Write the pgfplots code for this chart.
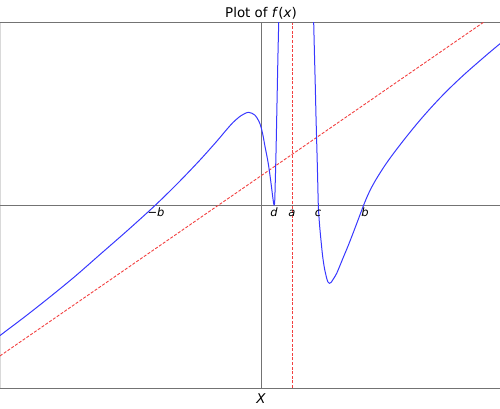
\documentclass[border=0pt]{standalone}
\usepackage{pgfplots}
\pgfplotsset{compat=1.18}
\usepackage{fontspec}
\setmainfont{DejaVu Sans}
\definecolor{cblue}{rgb}{0.22,0.22,1}
\definecolor{cred}{rgb}{0.95,0.25,0.25}
\definecolor{spine}{gray}{0.45}
\begin{document}
\begin{tikzpicture}
\useasboundingbox (0pt,-20pt) rectangle (500pt,388pt);
\begin{axis}[
  at={(0pt,0pt)}, anchor=south west,
  scale only axis, width=500pt, height=365pt,
  xmin=-261, xmax=239, ymin=-182.5, ymax=182.5,
  axis line style={draw=none},
  xtick=\empty, ytick=\empty,
  clip=true,
]
% frame and zero lines
\draw[spine, line width=1pt] (rel axis cs:0,1) -- (rel axis cs:1,1);
\draw[spine, line width=1pt] (rel axis cs:0,0) -- (rel axis cs:1,0);
\draw[gray!30, line width=0.6pt] (rel axis cs:0,0) -- (rel axis cs:0,1);
\draw[spine, line width=0.9pt] (axis cs:-261,0) -- (axis cs:239,0);
\draw[spine, line width=0.9pt] (axis cs:0,-182.5) -- (axis cs:0,182.5);
% asymptotes
\addplot[cred, line width=0.9pt, dash pattern=on 3pt off 1.6pt] coordinates {(-261,-150.4) (239,194.6)};
\addplot[cred, line width=0.9pt, dash pattern=on 3pt off 1.6pt] coordinates {(31.5,-182.5) (31.5,182.5)};
% curve, left of a
\addplot[cblue, line width=1pt, smooth, tension=0.5] coordinates {
(-261,-130) (-236,-111.1) (-211,-91.4) (-186,-70.9) (-161,-49) (-133,-24.5)
(-106,0) (-83,22.5) (-61,45.5) (-44,64.5) (-36,74) (-28,83) (-20,89.8) (-12.5,93.2)
(-6,90.3) (-2,84) (0,78.5) (2,70) (4,59) (6,49) (7.5,40.5) (9,30) (10.5,18.5)
(12,6.5) (13,0.5) (13.7,4) (14.3,25) (15,52.5) (16,102.5) (17,152.5) (17.7,182.5) (18.2,205)
};
% curve, right of a
\addplot[cblue, line width=1pt, smooth, tension=0.5] coordinates {
(52.2,205) (52.7,182.5) (53.5,150) (54.3,118.8) (55.1,85) (56,52.5) (56.7,25)
(57.3,0.5) (58,-12) (59,-24.5) (60.3,-38) (61.7,-51.2) (63.5,-63) (65.7,-72.8)
(67,-76.5) (68.3,-77.8) (70,-77) (72,-74) (75.7,-67.8) (82,-52.6) (87,-40.6)
(92,-27.8) (97,-14.6) (102.5,0) (107,10.8) (112,20.8) (117,29.3) (124,40.2)
(132,51.4) (144,67) (156,81.8) (167,94.5) (179,107.5) (192,120.5) (206,133.5)
(226,150.9) (239,161.8)
};
% labels on the x axis
\node[anchor=base, inner sep=0pt, font=\fontsize{11.5}{13}\selectfont\itshape] at (axis cs:-105,-10.5) {−b};
\node[anchor=base, inner sep=0pt, font=\fontsize{11.5}{13}\selectfont\itshape] at (axis cs:13,-10.5) {d};
\node[anchor=base, inner sep=0pt, font=\fontsize{11.5}{13}\selectfont\itshape] at (axis cs:31,-10.5) {a};
\node[anchor=base, inner sep=0pt, font=\fontsize{11.5}{13}\selectfont\itshape] at (axis cs:57,-10.5) {c};
\node[anchor=base, inner sep=0pt, font=\fontsize{11.5}{13}\selectfont\itshape] at (axis cs:104,-10.5) {b};
\end{axis}
% title and x label
\node[anchor=base, inner sep=0pt, font=\fontsize{13.4}{15}\selectfont] at (261pt,370.7pt) {Plot of \textit{f}(\textit{x})};
\node[anchor=base, inner sep=0pt, font=\fontsize{13.4}{15}\selectfont\itshape] at (261pt,-15pt) {X};
\end{tikzpicture}
\end{document}
